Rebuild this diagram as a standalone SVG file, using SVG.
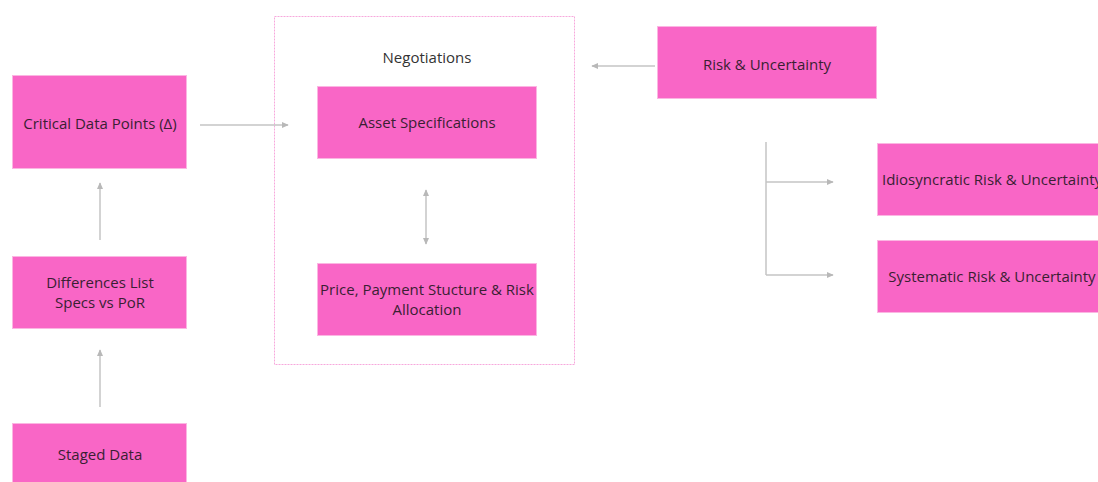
<svg xmlns="http://www.w3.org/2000/svg" width="1098" height="482" viewBox="0 0 1098 482">
  <style>
    .box { fill: #f966c6; stroke: #fbb6e2; stroke-width: 1; }
    .lbl { font-family: "Open Sans", "Noto Sans", sans-serif; font-size: 15px; fill: #3a1f33; text-anchor: middle; }
    .title { font-family: "Open Sans", "Noto Sans", sans-serif; font-size: 15px; fill: #333; text-anchor: middle; }
    .edge { fill: none; stroke: #c4c4c4; stroke-width: 1.5; }
  </style>
  <defs>
    <marker id="arrow" viewBox="0 0 10 10" refX="8" refY="5" markerWidth="5" markerHeight="5" orient="auto-start-reverse">
      <path d="M0,1 L9,5 L0,9 z" fill="#b8b8b8"/>
    </marker>
  </defs>
  <rect width="1098" height="482" fill="#ffffff"/>

  <!-- group container -->
  <g id="negotiations">
    <rect x="274.5" y="16.5" width="300" height="348" fill="none" stroke="#f7a8dc" stroke-width="1" stroke-dasharray="2,1"/>
    <text class="title" x="427" y="63">Negotiations</text>
  </g>

  <g id="critical-data-points">
    <rect class="box" x="12.5" y="75.5" width="174" height="93"/>
    <text class="lbl" x="100" y="129">Critical Data Points (Δ)</text>
  </g>

  <g id="differences-list">
    <rect class="box" x="12.5" y="256.5" width="174" height="72"/>
    <text class="lbl" x="100" y="288">Differences List</text>
    <text class="lbl" x="100" y="308">Specs vs PoR</text>
  </g>

  <g id="staged-data">
    <rect class="box" x="12.5" y="423.5" width="174" height="70"/>
    <text class="lbl" x="100" y="460">Staged Data</text>
  </g>

  <g id="asset-specifications">
    <rect class="box" x="317.5" y="86.5" width="219" height="72"/>
    <text class="lbl" x="427" y="128">Asset Specifications</text>
  </g>

  <g id="price-payment">
    <rect class="box" x="317.5" y="263.5" width="219" height="72"/>
    <text class="lbl" x="427" y="295">Price, Payment Stucture &amp; Risk</text>
    <text class="lbl" x="427" y="315">Allocation</text>
  </g>

  <g id="risk-uncertainty">
    <rect class="box" x="657.5" y="26.5" width="219" height="72"/>
    <text class="lbl" x="767" y="70">Risk &amp; Uncertainty</text>
  </g>

  <g id="idiosyncratic-risk">
    <rect class="box" x="877.5" y="143.5" width="240" height="72"/>
    <text class="lbl" x="992" y="185">Idiosyncratic Risk &amp; Uncertainty</text>
  </g>

  <g id="systematic-risk">
    <rect class="box" x="877.5" y="240.5" width="240" height="72"/>
    <text class="lbl" x="992" y="282">Systematic Risk &amp; Uncertainty</text>
  </g>

  <g id="connectors">
    <line class="edge" x1="200" y1="125" x2="288" y2="125" marker-end="url(#arrow)"/>
    <line class="edge" x1="100" y1="240" x2="100" y2="183" marker-end="url(#arrow)"/>
    <line class="edge" x1="100" y1="407" x2="100" y2="350" marker-end="url(#arrow)"/>
    <line class="edge" x1="426" y1="190" x2="426" y2="244" marker-start="url(#arrow)" marker-end="url(#arrow)"/>
    <line class="edge" x1="655" y1="66" x2="592" y2="66" marker-end="url(#arrow)"/>
    <polyline class="edge" points="766,142 766,275"/>
    <line class="edge" x1="766" y1="182" x2="833" y2="182" marker-end="url(#arrow)"/>
    <line class="edge" x1="766" y1="275" x2="833" y2="275" marker-end="url(#arrow)"/>
  </g>
</svg>
